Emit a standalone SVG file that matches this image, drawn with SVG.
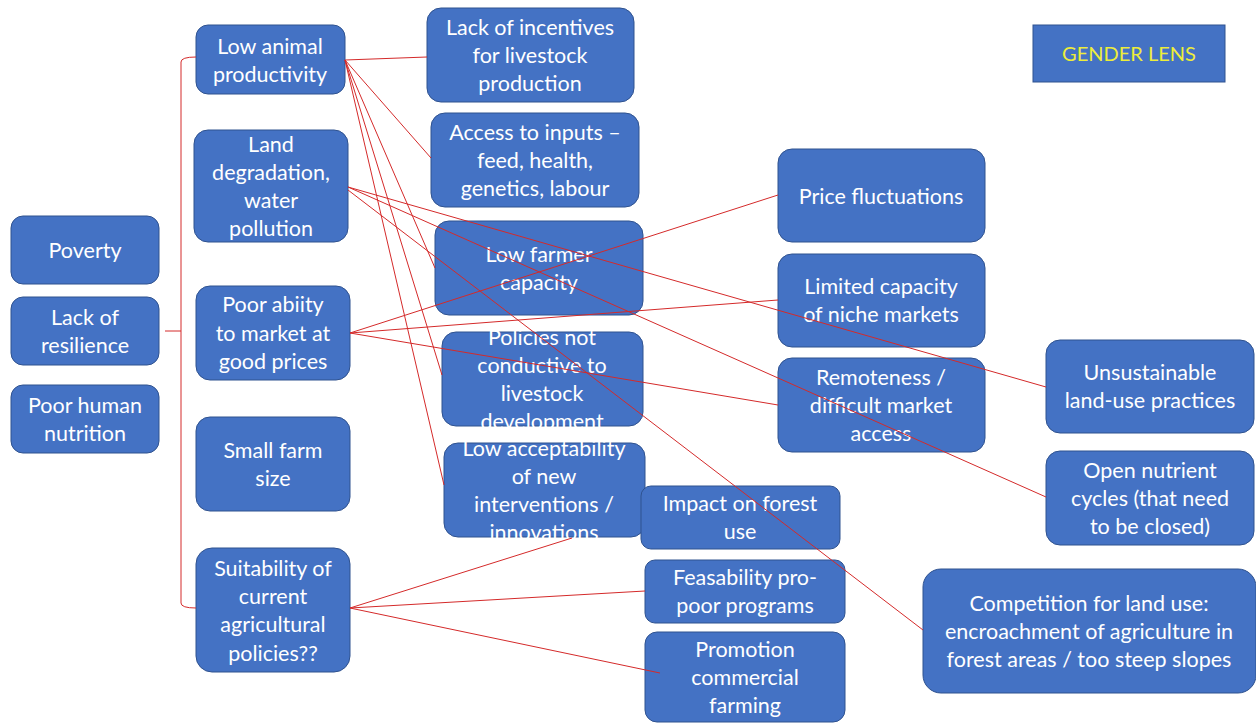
<svg xmlns="http://www.w3.org/2000/svg" width="1256" height="723" viewBox="0 0 1256 723">
<style>
.box{fill:#4472C4;stroke:#2F528F;stroke-width:1}
.t{font-family:Lato,"Open Sans","Liberation Sans",sans-serif;font-size:21.5px;fill:#ffffff;text-anchor:middle}
.g{font-family:Lato,"Open Sans","Liberation Sans",sans-serif;font-size:20px;fill:#EDED3A;text-anchor:middle}
.c{stroke:#D42A2A;stroke-width:1;fill:none}
</style>
<rect width="1256" height="723" fill="#ffffff"/>
<g id="poverty"><rect class="box" x="11" y="216" width="148" height="68" rx="12"/><text class="t" x="85" y="258">Poverty</text></g>
<g id="lack-resilience"><rect class="box" x="11" y="297" width="148" height="68" rx="12"/><text class="t" x="85" y="325">Lack of</text><text class="t" x="85" y="353">resilience</text></g>
<g id="poor-nutrition"><rect class="box" x="11" y="385" width="148" height="68" rx="12"/><text class="t" x="85" y="413">Poor human</text><text class="t" x="85" y="441">nutrition</text></g>
<g id="low-animal"><rect class="box" x="196" y="25" width="149" height="69" rx="12"/><text class="t" x="270" y="54">Low animal</text><text class="t" x="270" y="82">productivity</text></g>
<g id="land-degradation"><rect class="box" x="194" y="130" width="154" height="112" rx="14"/><text class="t" x="271" y="152">Land</text><text class="t" x="271" y="180">degradation,</text><text class="t" x="271" y="208">water</text><text class="t" x="271" y="236">pollution</text></g>
<g id="poor-ability"><rect class="box" x="196" y="286" width="154" height="94" rx="14"/><text class="t" x="273" y="312">Poor abiity</text><text class="t" x="273" y="341">to market at</text><text class="t" x="273" y="369">good prices</text></g>
<g id="small-farm"><rect class="box" x="196" y="417" width="154" height="94" rx="14"/><text class="t" x="273" y="458">Small farm</text><text class="t" x="273" y="486">size</text></g>
<g id="suitability"><rect class="box" x="196" y="548" width="154" height="124" rx="16"/><text class="t" x="273" y="576">Suitability of</text><text class="t" x="273" y="604">current</text><text class="t" x="273" y="632">agricultural</text><text class="t" x="273" y="661">policies??</text></g>
<g id="lack-incentives"><rect class="box" x="427" y="8" width="207" height="94" rx="14"/><text class="t" x="530" y="35">Lack of incentives</text><text class="t" x="530" y="63">for livestock</text><text class="t" x="530" y="91">production</text></g>
<g id="access-inputs"><rect class="box" x="431" y="113" width="208" height="94" rx="14"/><text class="t" x="535" y="140">Access to inputs –</text><text class="t" x="535" y="168">feed, health,</text><text class="t" x="535" y="196">genetics, labour</text></g>
<g id="low-farmer"><rect class="box" x="435" y="221" width="208" height="94" rx="14"/><text class="t" x="539" y="262">Low farmer</text><text class="t" x="539" y="290">capacity</text></g>
<g id="policies"><rect class="box" x="442" y="332" width="201" height="94" rx="14"/><text class="t" x="542" y="345">Policies not</text><text class="t" x="542" y="373">conductive to</text><text class="t" x="542" y="401">livestock</text><text class="t" x="542" y="429">development</text></g>
<g id="low-acceptability"><rect class="box" x="444" y="443" width="201" height="94" rx="14"/><text class="t" x="544" y="456">Low acceptability</text><text class="t" x="544" y="484">of new</text><text class="t" x="544" y="512">interventions /</text><text class="t" x="544" y="540">innovations</text></g>
<g id="impact-forest"><rect class="box" x="641" y="486" width="199" height="63" rx="10"/><text class="t" x="740" y="511">Impact on forest</text><text class="t" x="740" y="539">use</text></g>
<g id="feasability"><rect class="box" x="645" y="560" width="200" height="63" rx="10"/><text class="t" x="745" y="585">Feasability pro-</text><text class="t" x="745" y="613">poor programs</text></g>
<g id="promotion"><rect class="box" x="645" y="632" width="200" height="90" rx="12"/><text class="t" x="745" y="657">Promotion</text><text class="t" x="745" y="685">commercial</text><text class="t" x="745" y="713">farming</text></g>
<g id="price-fluctuations"><rect class="box" x="778" y="149" width="207" height="93" rx="14"/><text class="t" x="881" y="204">Price fluctuations</text></g>
<g id="limited-capacity"><rect class="box" x="778" y="254" width="207" height="93" rx="14"/><text class="t" x="881" y="294">Limited capacity</text><text class="t" x="881" y="322">of niche markets</text></g>
<g id="remoteness"><rect class="box" x="778" y="358" width="207" height="94" rx="14"/><text class="t" x="881" y="385">Remoteness /</text><text class="t" x="881" y="413">difficult market</text><text class="t" x="881" y="441">access</text></g>
<g id="unsustainable"><rect class="box" x="1046" y="340" width="208" height="93" rx="14"/><text class="t" x="1150" y="380">Unsustainable</text><text class="t" x="1150" y="408">land-use practices</text></g>
<g id="open-nutrient"><rect class="box" x="1046" y="451" width="208" height="94" rx="14"/><text class="t" x="1150" y="478">Open nutrient</text><text class="t" x="1150" y="506">cycles (that need</text><text class="t" x="1150" y="534">to be closed)</text></g>
<g id="competition"><rect class="box" x="923" y="569" width="333" height="124" rx="18"/><text class="t" x="1089" y="611">Competition for land use:</text><text class="t" x="1089" y="639">encroachment of agriculture in</text><text class="t" x="1089" y="667">forest areas / too steep slopes</text></g>
<g id="gender-lens"><rect class="box" x="1033" y="25" width="192" height="57"/><text class="g" x="1129" y="61">GENDER LENS</text></g>
<g id="connectors">
<path class="c" d="M196,57 Q181,57 181,62 L181,603 Q181,608 196,608"/>
<path class="c" d="M165,331 L181,331"/>
<path class="c" d="M345,60 L427,57"/>
<path class="c" d="M345,60 L431,158"/>
<path class="c" d="M345,60 L435,268"/>
<path class="c" d="M345,60 L442,375"/>
<path class="c" d="M345,60 L444,485"/>
<path class="c" d="M348,187 L1046,387"/>
<path class="c" d="M348,187 L1046,497"/>
<path class="c" d="M348,190 L923,630"/>
<path class="c" d="M350,333 L778,195"/>
<path class="c" d="M350,333 L778,300"/>
<path class="c" d="M350,333 L778,405"/>
<path class="c" d="M350,608 L572,538"/>
<path class="c" d="M350,608 L645,591"/>
<path class="c" d="M350,608 L660,673"/>
</g>
</svg>
